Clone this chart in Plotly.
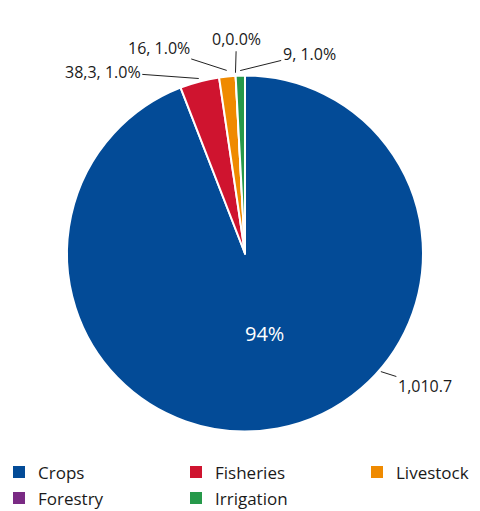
import math
import plotly.graph_objects as go

# Sector values (USD million) and their colours
categories = ["Crops", "Fisheries", "Livestock", "Forestry", "Irrigation"]
values = [1010.7, 38.3, 16, 0, 9]
colors = ["#034B97", "#CF142F", "#EF8A00", "#7A2A84", "#26994A"]

# Outside label texts, as printed next to each slice
outside_labels = ["1,010.7", "38,3, 1.0%", "16, 1.0%", "0,0.0%", "9, 1.0%"]

W, H = 480, 511
FONT = "Open Sans"
TEXT = "#1a1a1a"

# Pie placement in pixels (centre and radius)
cx_px, cy_px, r_px = 245, 253.5, 178
dom_x = [(cx_px - r_px) / W, (cx_px + r_px) / W]
dom_y = [1 - (cy_px + r_px) / H, 1 - (cy_px - r_px) / H]

fig = go.Figure(
    go.Pie(
        labels=categories,
        values=values,
        sort=False,
        direction="clockwise",
        rotation=0,
        marker=dict(colors=colors, line=dict(color="white", width=2)),
        textinfo="none",
        hoverinfo="label+value+percent",
        domain=dict(x=dom_x, y=dom_y),
        showlegend=False,
    )
)

# Mid angle of every slice, clockwise from 12 o'clock
total = sum(values)
mid_deg = []
acc = 0.0
for v in values:
    mid_deg.append((acc + v / 2) / total * 360)
    acc += v


def px_to_paper(x, y):
    return x / W, 1 - y / H


# Share of the largest slice, written inside it
a0 = math.radians(mid_deg[0] - 3)
px, py = px_to_paper(cx_px + 0.46 * r_px * math.sin(a0), cy_px - 0.46 * r_px * math.cos(a0))
fig.add_annotation(
    x=px, y=py, xref="paper", yref="paper", showarrow=False,
    text=f"{round(values[0] / total * 100)}%",
    font=dict(size=20, color="white", family=FONT),
)

# Leader line settings per label: (angle override, radial gap, text offset dx, dy in px)
leader = {
    "Crops": (131, 2, 44, 14),
    "Fisheries": (None, 3, -96, -7),
    "Livestock": (None, 6, -68, -22),
    "Forestry": (None, 3, 1, -34),
    "Irrigation": (None, 5, 69, -17),
}

for name, lab, mid in zip(categories, outside_labels, mid_deg):
    ang, gap, dx, dy = leader[name]
    a = math.radians(ang if ang is not None else mid)
    tx, ty = px_to_paper(cx_px + (r_px + gap) * math.sin(a), cy_px - (r_px + gap) * math.cos(a))
    fig.add_annotation(
        x=tx, y=ty, xref="paper", yref="paper",
        text=lab,
        showarrow=True,
        arrowhead=0,
        arrowwidth=1,
        arrowcolor="#222222",
        ax=dx,
        ay=dy,
        font=dict(size=16, color=TEXT, family=FONT),
    )

# Legend: three columns of colour squares with category names
col_x = [13, 190, 371]
row_y = [472, 498]
sq = 12
for i, (name, col) in enumerate(zip(categories, colors)):
    x0 = col_x[i % 3]
    y0 = row_y[i // 3]
    fig.add_shape(
        type="rect", xref="paper", yref="paper",
        x0=x0 / W, x1=(x0 + sq) / W,
        y0=1 - (y0 + sq / 2) / H, y1=1 - (y0 - sq / 2) / H,
        fillcolor=col, line=dict(width=0),
    )
    lx, ly = px_to_paper(x0 + 23, y0)
    fig.add_annotation(
        x=lx, y=ly, xref="paper", yref="paper", showarrow=False,
        xanchor="left", yanchor="middle", text=name,
        font=dict(size=17, color=TEXT, family=FONT),
    )

fig.update_layout(
    width=W,
    height=H,
    margin=dict(l=0, r=0, t=0, b=0, autoexpand=False),
    paper_bgcolor="white",
    plot_bgcolor="white",
    font=dict(family=FONT, color=TEXT),
    showlegend=False,
)

fig.write_html("out.html")
